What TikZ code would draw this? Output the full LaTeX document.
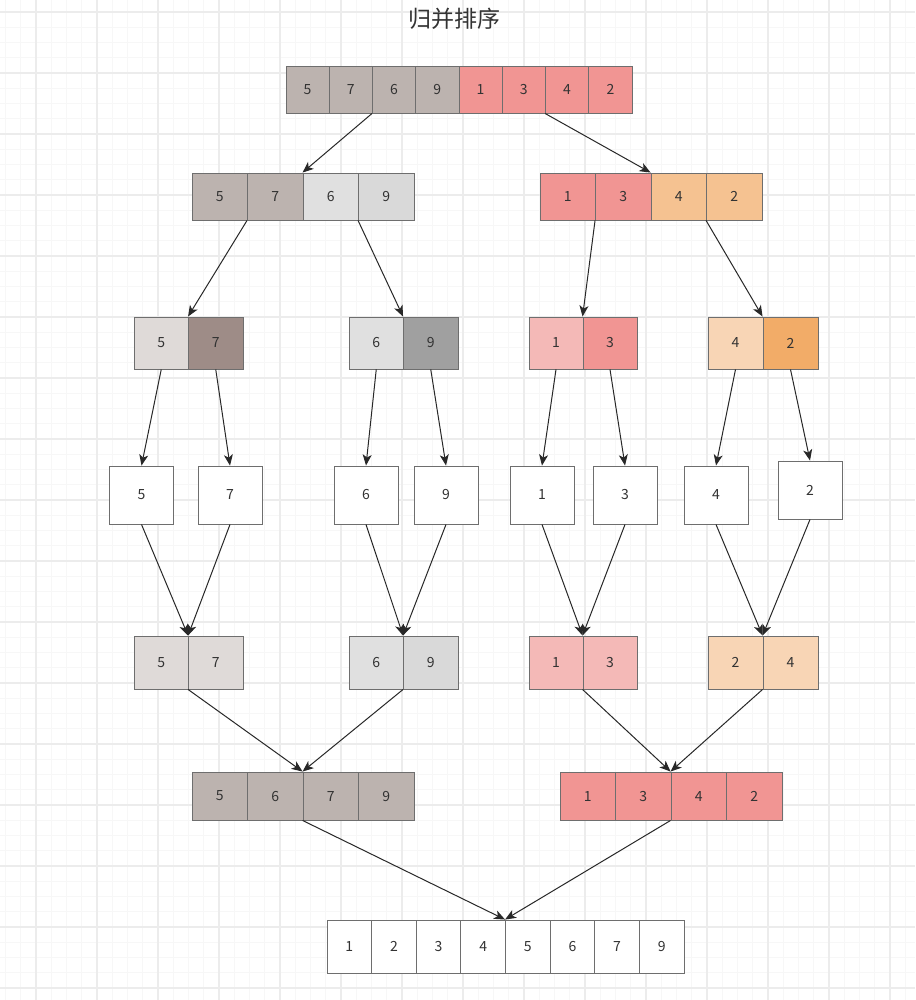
\documentclass[tikz,border=0pt]{standalone}
\usepackage{fontspec}
\setmainfont{Noto Sans CJK SC}
\usetikzlibrary{arrows.meta}
\definecolor{cA}{RGB}{188,179,175}
\definecolor{cR}{RGB}{241,149,147}
\definecolor{cG}{RGB}{224,224,224}
\definecolor{cGb}{RGB}{217,217,217}
\definecolor{cO}{RGB}{245,194,145}
\definecolor{cP}{RGB}{223,218,216}
\definecolor{cD}{RGB}{158,140,135}
\definecolor{cM}{RGB}{160,160,160}
\definecolor{cRL}{RGB}{244,185,183}
\definecolor{cOL}{RGB}{248,213,181}
\definecolor{cOD}{RGB}{242,172,104}
\definecolor{bordc}{RGB}{110,110,110}
\definecolor{txtc}{RGB}{51,51,51}
\definecolor{arrc}{RGB}{40,40,40}
\definecolor{gminor}{RGB}{247,247,247}
\definecolor{gmajor}{RGB}{236,236,236}
\newcommand\mkrow[6]{%
  \foreach \v/\c [count=\i] in {#6} {
    \node[cell, fill=\c, minimum width=#4pt, minimum height=#5pt]
      (#1-\i) at ({#2+(\i-0.5)*#4}, {#3+#5/2}) {\v};
  }}
\begin{document}
\begin{tikzpicture}[x=1pt,y=-1pt,
  cell/.style={draw=bordc, line width=0.9pt, inner sep=0pt, text=txtc,
    font=\fontsize{14}{16}\selectfont},
  single/.style={cell, fill=white, minimum width=64pt, minimum height=58pt},
  arr/.style={draw=arrc, line width=1pt,
    -{Stealth[length=11pt,width=9pt,inset=3pt]}},
  gridmin/.style={draw=gminor, line width=1pt},
  gridmaj/.style={draw=gmajor, line width=1.4pt}]
\useasboundingbox (0,0) rectangle (915,1000);
\fill[white] (0,0) rectangle (915,1000);
\begin{scope}
\clip (0,0) rectangle (915,1000);
\foreach \k in {0,...,64} {
  \pgfmathsetmacro\xx{-25+15.25*\k}
  \draw[gridmin] (\xx,0) -- (\xx,1000);
}
\foreach \k in {0,...,70} {
  \pgfmathsetmacro\yy{-49+15.25*\k}
  \draw[gridmin] (0,\yy) -- (915,\yy);
}
\foreach \k in {0,...,16} {
  \pgfmathsetmacro\xx{-25+61*\k}
  \draw[gridmaj] (\xx,0) -- (\xx,1000);
}
\foreach \k in {0,...,18} {
  \pgfmathsetmacro\yy{-49+61*\k}
  \draw[gridmaj] (0,\yy) -- (915,\yy);
}
\end{scope}

\node[text=txtc, font=\fontsize{23}{26}\selectfont] (title) at (454,19) {归并排序};

% row 1
\mkrow{a}{286}{66}{43.25}{47}{5/cA,7/cA,6/cA,9/cA,1/cR,3/cR,4/cR,2/cR}
% row 2
\mkrow{b}{192}{173}{55.5}{47}{5/cA,7/cA,6/cG,9/cGb}
\mkrow{c}{540}{173}{55.5}{47}{1/cR,3/cR,4/cO,2/cO}
% row 3
\mkrow{d}{134}{317}{54.5}{52}{5/cP,7/cD}
\mkrow{e}{349}{317}{54.5}{52}{6/cG,9/cM}
\mkrow{f}{529}{317}{54}{52}{1/cRL,3/cR}
\mkrow{g}{708}{317}{55}{52}{4/cOL,2/cOD}
% row 4
\node[single] (h1) at (141.5,495) {5};
\node[single] (h2) at (230,495) {7};
\node[single] (h3) at (366,495) {6};
\node[single] (h4) at (446,495) {9};
\node[single] (h5) at (542,495) {1};
\node[single] (h6) at (625,495) {3};
\node[single] (h7) at (716,495) {4};
\node[single] (h8) at (810,490) {2};
% row 5
\mkrow{i}{134}{636}{54.5}{53}{5/cP,7/cP}
\mkrow{j}{349}{636}{54.5}{53}{6/cG,9/cGb}
\mkrow{k}{529}{636}{54}{53}{1/cRL,3/cRL}
\mkrow{l}{708}{636}{55}{53}{2/cOL,4/cOL}
% row 6
\mkrow{m}{192}{772}{55.5}{48}{5/cA,6/cA,7/cA,9/cA}
\mkrow{n}{560}{772}{55.5}{48}{1/cR,3/cR,4/cR,2/cR}
% row 7
\mkrow{o}{327}{920}{44.625}{53}{1/white,2/white,3/white,4/white,5/white,6/white,7/white,9/white}

% arrows
\draw[arr] (a-3.south west) -- (b-3.north west);
\draw[arr] (a-7.south west) -- (c-3.north west);
\draw[arr] (b-2.south west) -- (d-2.north west);
\draw[arr] (b-4.south west) -- (e-2.north west);
\draw[arr] (c-2.south west) -- (f-2.north west);
\draw[arr] (c-4.south west) -- (g-2.north west);
\draw[arr] (d-1.south) -- (h1.north);
\draw[arr] (d-2.south) -- (h2.north);
\draw[arr] (e-1.south) -- (h3.north);
\draw[arr] (e-2.south) -- (h4.north);
\draw[arr] (f-1.south) -- (h5.north);
\draw[arr] (f-2.south) -- (h6.north);
\draw[arr] (g-1.south) -- (h7.north);
\draw[arr] (g-2.south) -- (h8.north);
\draw[arr] (h1.south) -- (i-2.north west);
\draw[arr] (h2.south) -- (i-2.north west);
\draw[arr] (h3.south) -- (j-2.north west);
\draw[arr] (h4.south) -- (j-2.north west);
\draw[arr] (h5.south) -- (k-2.north west);
\draw[arr] (h6.south) -- (k-2.north west);
\draw[arr] (h7.south) -- (l-2.north west);
\draw[arr] (h8.south) -- (l-2.north west);
\draw[arr] (i-2.south west) -- (m-3.north west);
\draw[arr] (j-2.south west) -- (m-3.north west);
\draw[arr] (k-2.south west) -- (n-3.north west);
\draw[arr] (l-2.south west) -- (n-3.north west);
\draw[arr] (m-3.south west) -- (o-5.north west);
\draw[arr] (n-3.south west) -- (o-5.north west);
\end{tikzpicture}
\end{document}
